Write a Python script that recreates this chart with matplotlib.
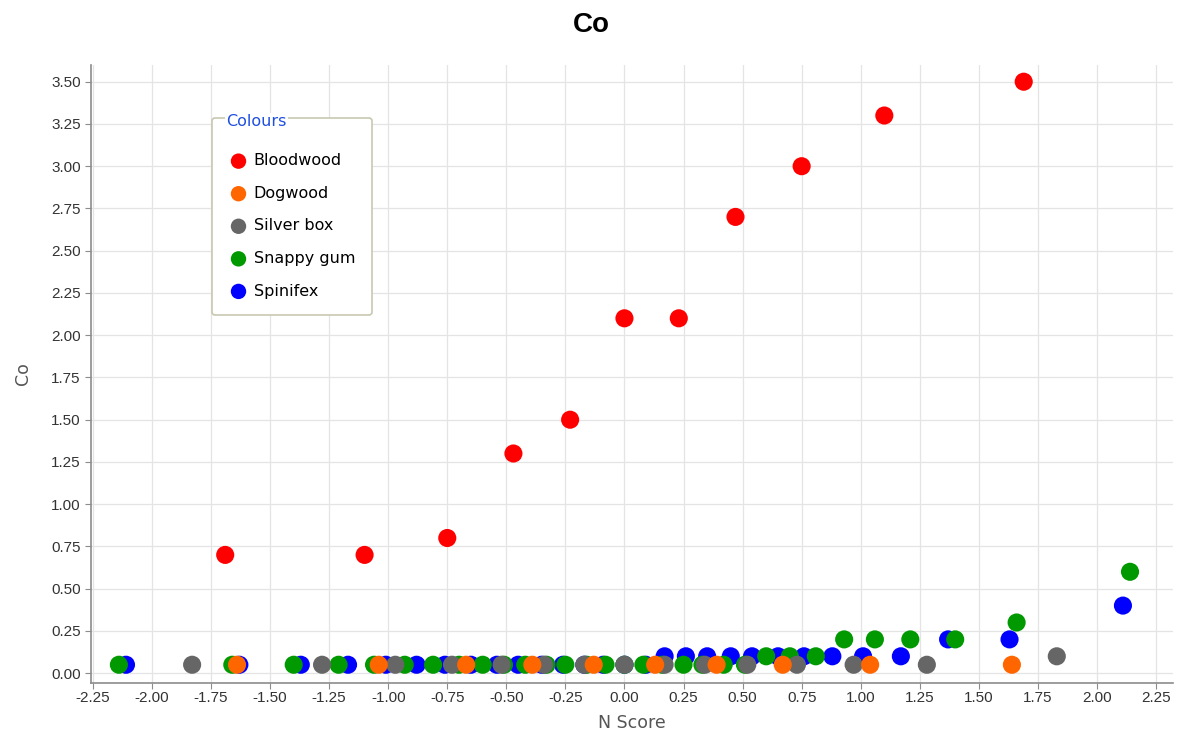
import numpy as np
import matplotlib
matplotlib.use("Agg")
from matplotlib import pyplot as plt

plt.rcParams['font.family'] = ['Liberation Sans', 'DejaVu Sans']

# N score (x) and Co (y) for each group
species = ["Bloodwood", "Dogwood", "Silver box", "Snappy gum", "Spinifex"]
colours = ["#ff0000", "#ff6600", "#666666", "#009900", "#0000ff"]

bloodwood_x = [-1.69, -1.10, -0.75, -0.47, -0.23, 0.00, 0.23, 0.47, 0.75, 1.10, 1.69]
bloodwood_y = [0.70, 0.70, 0.80, 1.30, 1.50, 2.10, 2.10, 2.70, 3.00, 3.30, 3.50]

dogwood_x = [-1.64, -1.04, -0.67, -0.39, -0.13, 0.13, 0.39, 0.67, 1.04, 1.64]
dogwood_y = [0.05, 0.05, 0.05, 0.05, 0.05, 0.05, 0.05, 0.05, 0.05, 0.05]

silverbox_x = [-1.83, -1.28, -0.97, -0.73, -0.52, -0.34, -0.17, 0.00,
               0.17, 0.34, 0.52, 0.73, 0.97, 1.28, 1.83]
silverbox_y = [0.05, 0.05, 0.05, 0.05, 0.05, 0.05, 0.05, 0.05,
               0.05, 0.05, 0.05, 0.05, 0.05, 0.05, 0.10]

snappy_x = [-2.14, -1.66, -1.40, -1.21, -1.06, -0.93, -0.81, -0.70, -0.60, -0.51,
            -0.42, -0.33, -0.25, -0.16, -0.08, 0.00, 0.08, 0.16, 0.25, 0.33,
            0.42, 0.51, 0.60, 0.70, 0.81, 0.93, 1.06, 1.21, 1.40, 1.66, 2.14]
snappy_y = [0.05, 0.05, 0.05, 0.05, 0.05, 0.05, 0.05, 0.05, 0.05, 0.05,
            0.05, 0.05, 0.05, 0.05, 0.05, 0.05, 0.05, 0.05, 0.05, 0.05,
            0.05, 0.05, 0.10, 0.10, 0.10, 0.20, 0.20, 0.20, 0.20, 0.30, 0.60]

spinifex_x = [-2.11, -1.63, -1.37, -1.17, -1.01, -0.88, -0.76, -0.65, -0.54, -0.45,
              -0.35, -0.26, -0.17, -0.09, 0.00, 0.09, 0.17, 0.26, 0.35, 0.45,
              0.54, 0.65, 0.76, 0.88, 1.01, 1.17, 1.37, 1.63, 2.11]
spinifex_y = [0.05, 0.05, 0.05, 0.05, 0.05, 0.05, 0.05, 0.05, 0.05, 0.05,
              0.05, 0.05, 0.05, 0.05, 0.05, 0.05, 0.10, 0.10, 0.10, 0.10,
              0.10, 0.10, 0.10, 0.10, 0.10, 0.10, 0.20, 0.20, 0.40]

xs = [bloodwood_x, dogwood_x, silverbox_x, snappy_x, spinifex_x]
ys = [bloodwood_y, dogwood_y, silverbox_y, snappy_y, spinifex_y]

fig = plt.figure(figsize=(11.82, 7.45), dpi=100)
ax = fig.add_axes([0.077, 0.083, 0.915, 0.83])

# later series sit underneath (Spinifex at the bottom)
handles = []
for i, (name, c, x, y) in enumerate(zip(species, colours, xs, ys)):
    h = ax.scatter(x, y, s=170, color=c, edgecolors='none', label=name, zorder=10 - i)
    handles.append(h)

ax.set_xlim(-2.258, 2.32)
ax.set_ylim(-0.059, 3.60)
ax.set_xticks(np.arange(-2.25, 2.26, 0.25))
ax.set_yticks(np.arange(0, 3.51, 0.25))
ax.xaxis.set_major_formatter(matplotlib.ticker.FormatStrFormatter('%.2f'))
ax.yaxis.set_major_formatter(matplotlib.ticker.FormatStrFormatter('%.2f'))
ax.grid(True, color='#e4e4e4', linewidth=0.9)
ax.set_axisbelow(True)
for s in ['top', 'right']:
    ax.spines[s].set_visible(False)
for s in ['left', 'bottom']:
    ax.spines[s].set_color('#8c8c8c')
    ax.spines[s].set_linewidth(1.2)
ax.tick_params(colors='#8c8c8c', labelcolor='#333333', labelsize=11, length=4)
ax.tick_params(axis='x', pad=2)

lab_font = dict(family=['DejaVu Sans'], size=12.5, color='#555555')
ax.set_xlabel("N Score", fontdict=lab_font, labelpad=6)
ax.set_ylabel("Co", fontdict=lab_font, labelpad=14)
fig.text(0.5, 1 - 25 / 745, "Co", fontsize=20, fontweight='bold',
         ha='center', va='center')

leg = ax.legend(handles=handles, loc='upper left', bbox_to_anchor=(0.112, 0.914),
                borderaxespad=0, prop={'family': 'DejaVu Sans', 'size': 11.5},
                labelspacing=1.1, handletextpad=0.34, handlelength=1.2,
                markerscale=0.85, frameon=True, fancybox=True, borderpad=1.05,
                edgecolor='#c8c8b0', framealpha=1, title=' ', title_fontsize=1)
leg.get_frame().set_linewidth(1.2)
leg.set_zorder(20)

fig.text(226 / 1182, 1 - 122 / 745, "Colours", color='#1f4fe0',
         family=['DejaVu Sans'], fontsize=11.5, va='center', ha='left', zorder=30,
         bbox=dict(facecolor='white', edgecolor='none', pad=1))

fig.savefig("out.png", dpi=100)
